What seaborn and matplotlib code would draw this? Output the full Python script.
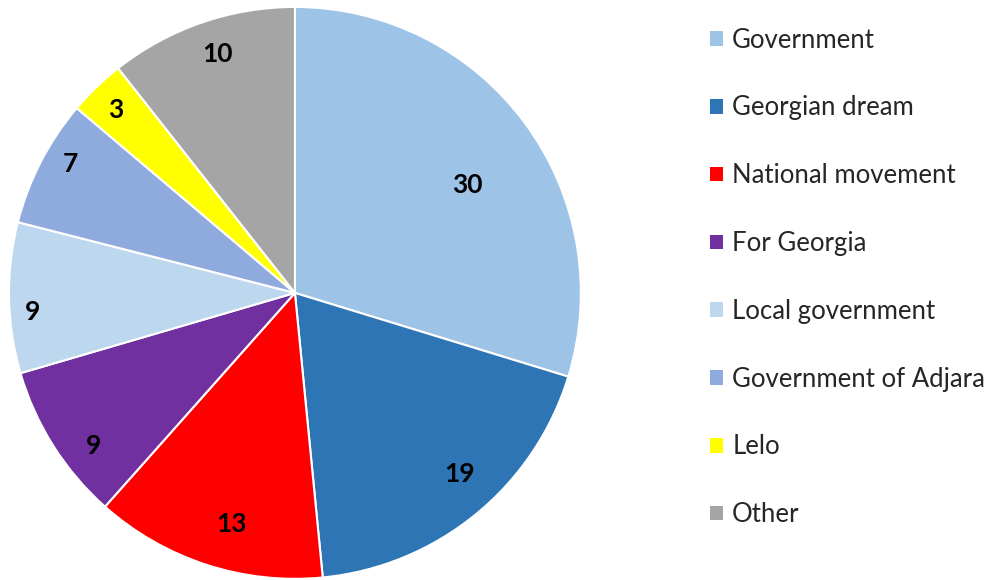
"""Pie chart of mentioned actors, with legend on the right."""
import numpy as np
import matplotlib.pyplot as plt
import seaborn as sns
from matplotlib.patches import Patch

categories = ["Government", "Georgian dream", "National movement", "For Georgia",
              "Local government", "Government of Adjara", "Lelo", "Other"]
# shares as measured from the slice angles; labels are the rounded values shown
shares = [29.7, 18.7, 13.1, 8.9, 8.5, 7.2, 3.2, 10.6]
value_labels = ["30", "19", "13", "9", "9", "7", "3", "10"]
colors = ["#9DC3E6", "#2E75B6", "#FF0000", "#7030A0",
          "#BDD7EE", "#8FAADC", "#FFFF00", "#A5A5A5"]

# label placement ("best fit" in the original): radius fraction and angle nudge (deg)
label_radius = [0.715, 0.85, 0.83, 0.88, 0.92, 0.91, 0.90, 0.885]
label_nudge = [-3.9, 3.4, 2.6, 4.5, 2.7, -2.9, 0.2, -1.2]

sns.set_theme(style="white")
plt.rcParams['font.family'] = ['Lato', 'DejaVu Sans']

fig = plt.figure(figsize=(9.93, 5.80), dpi=100)
ax = fig.add_axes([0.009, 0.002, 0.576, 0.986])

wedges, _ = ax.pie(shares, colors=colors, startangle=90, counterclock=False,
                   radius=1.0, wedgeprops=dict(edgecolor="white", linewidth=1.5))
ax.set_xlim(-1, 1)
ax.set_ylim(-1, 1)
ax.set_aspect("equal")

for w, lab, r, nudge in zip(wedges, value_labels, label_radius, label_nudge):
    ang = np.deg2rad((w.theta1 + w.theta2) / 2 + nudge)
    ax.text(r * np.cos(ang), r * np.sin(ang), lab, ha="center", va="center_baseline",
            fontsize=19, fontweight="bold", color="black")

handles = [Patch(facecolor=c, edgecolor="none") for c in colors]
fig.legend(handles, categories, loc="upper left", bbox_to_anchor=(0.705, 0.970),
           frameon=False, fontsize=18.5, handlelength=0.5, handleheight=0.5,
           handletextpad=0.35, labelspacing=1.665, borderaxespad=0)

fig.savefig("out.png", dpi=100)
